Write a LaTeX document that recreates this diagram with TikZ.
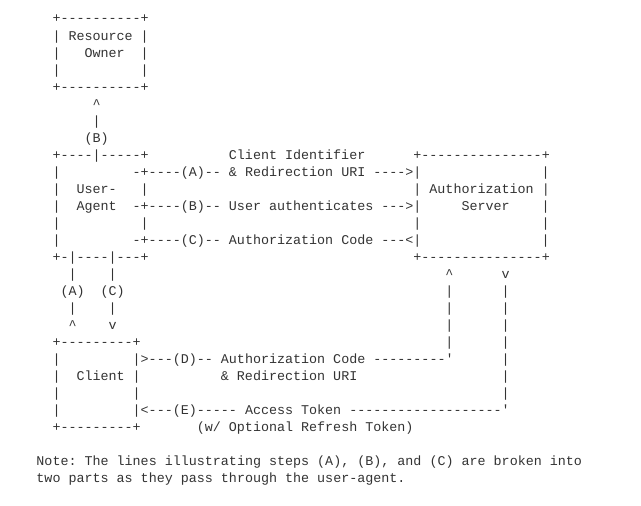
\documentclass[tikz,border=0pt]{standalone}
\usepackage{fontspec}
\setmonofont{Liberation Mono}
\usepackage{tikz}

\tikzset{
	ascii/.style={anchor=base west, inner sep=0pt, outer sep=0pt,
		font=\ttfamily\fontsize{13.37pt}{17pt}\selectfont, text=black!80}
}

\begin{document}
\begin{tikzpicture}
	\fill [white] (0,0) rectangle (641pt,-506pt);
	\useasboundingbox (0,0) rectangle (641pt,-506pt);
	\begin{scope}[x=8.02pt, y=-17.02pt, shift={(52.5pt,-23pt)}]
		% resource owner
		\node [ascii] (ro-top) at (0,0) {+----------+};
		\node [ascii] (ro-name) at (0,1) {| Resource |};
		\node [ascii] (ro-l2) at (0,2) {|};
		\node [ascii] (ro-owner) at (4,2) {Owner};
		\node [ascii] (ro-r2) at (11,2) {|};
		\node [ascii] (ro-l3) at (0,3) {|};
		\node [ascii] (ro-r3) at (11,3) {|};
		\node [ascii] (ro-bot) at (0,4) {+----------+};
		\node [ascii] (b-tip) at (5,5) {\textasciicircum};
		\node [ascii] (b-bar) at (5,6) {|};
		\node [ascii] (b-lbl) at (4,7) {(B)};
		% user-agent and authorization server
		\node [ascii] (ua-top) at (0,8) {+----|-----+};
		\node [ascii] (cid) at (22,8) {Client Identifier};
		\node [ascii] (as-top) at (45,8) {+---------------+};
		\node [ascii] (ua-l9) at (0,9) {|};
		\node [ascii] (step-a) at (10,9) {-+----(A)-- \& Redirection URI ---->|};
		\node [ascii] (as-r9) at (61,9) {|};
		\node [ascii] (ua-l10) at (0,10) {|};
		\node [ascii] (ua-user) at (3,10) {User-};
		\node [ascii] (ua-r10) at (11,10) {|};
		\node [ascii] (as-name) at (45,10) {| Authorization |};
		\node [ascii] (ua-l11) at (0,11) {|};
		\node [ascii] (ua-agent) at (3,11) {Agent};
		\node [ascii] (step-b) at (10,11) {-+----(B)-- User authenticates --->|};
		\node [ascii] (as-server) at (51,11) {Server};
		\node [ascii] (as-r11) at (61,11) {|};
		\node [ascii] (ua-l12) at (0,12) {|};
		\node [ascii] (ua-r12) at (11,12) {|};
		\node [ascii] (as-l12) at (45,12) {|};
		\node [ascii] (as-r12) at (61,12) {|};
		\node [ascii] (ua-l13) at (0,13) {|};
		\node [ascii] (step-c) at (10,13) {-+----(C)-- Authorization Code ---<|};
		\node [ascii] (as-r13) at (61,13) {|};
		\node [ascii] (ua-bot) at (0,14) {+-|----|---+};
		\node [ascii] (as-bot) at (45,14) {+---------------+};
		% broken lines (A) and (C), return lines (D) and (E)
		\node [ascii] (a-bar1) at (2,15) {|};
		\node [ascii] (c-bar1) at (7,15) {|};
		\node [ascii] (d-tip) at (49,15) {\textasciicircum};
		\node [ascii] (e-tip) at (56,15) {v};
		\node [ascii] (a-lbl) at (1,16) {(A)};
		\node [ascii] (c-lbl) at (6,16) {(C)};
		\node [ascii] (a-bar2) at (2,17) {|};
		\node [ascii] (c-bar2) at (7,17) {|};
		\node [ascii] (a-tip) at (2,18) {\textasciicircum};
		\node [ascii] (c-tip) at (7,18) {v};
		\foreach \r in {16,...,19}
			\node [ascii] (d-bar\r) at (49,\r) {|};
		\foreach \r in {16,...,22}
			\node [ascii] (e-bar\r) at (56,\r) {|};
		% client
		\node [ascii] (cl-top) at (0,19) {+---------+};
		\node [ascii] (cl-l20) at (0,20) {|};
		\node [ascii] (step-d) at (10,20) {|>---(D)-- Authorization Code ---------'};
		\node [ascii] (cl-l21) at (0,21) {|};
		\node [ascii] (cl-name) at (3,21) {Client |};
		\node [ascii] (d-uri) at (21,21) {\& Redirection URI};
		\node [ascii] (cl-l22) at (0,22) {|};
		\node [ascii] (cl-r22) at (10,22) {|};
		\node [ascii] (cl-l23) at (0,23) {|};
		\node [ascii] (step-e) at (10,23) {|<---(E)----- Access Token -------------------'};
		\node [ascii] (cl-bot) at (0,24) {+---------+};
		\node [ascii] (e-note) at (18,24) {(w/ Optional Refresh Token)};
		% note
		\node [ascii] (note1) at (-2,26) {Note: The lines illustrating steps (A), (B), and (C) are broken into};
		\node [ascii] (note2) at (-2,27) {two parts as they pass through the user-agent.};
	\end{scope}
\end{tikzpicture}
\end{document}
